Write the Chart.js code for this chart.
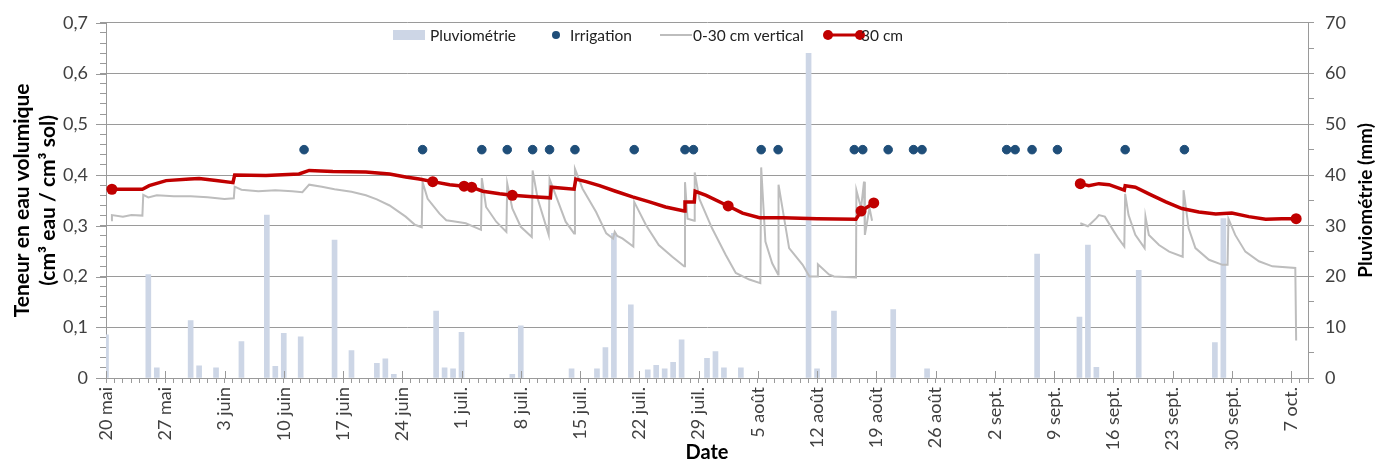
<!DOCTYPE html>
<html lang="fr">
<head>
<meta charset="utf-8">
<title>Teneur en eau volumique et pluviométrie</title>
<script src="https://cdn.jsdelivr.net/npm/chart.js@4.4.1/dist/chart.umd.min.js"></script>
<style>
  html, body { margin: 0; padding: 0; background: #fff; }
  canvas { display: block; }
</style>
</head>
<body>
<canvas id="soilChart" width="1387" height="465"></canvas>
<script>
'use strict';

// x values are days counted from 20 mai (day 0)
const tickLabels = ['20 mai', '27 mai', '3 juin', '10 juin', '17 juin', '24 juin', '1 juil.',
  '8 juil.', '15 juil.', '22 juil.', '29 juil.', '5 août', '12 août', '19 août', '26 août',
  '2 sept.', '9 sept.', '16 sept.', '23 sept.', '30 sept.', '7 oct.'];

// Pluviométrie (mm), right axis
const rainDays = [0, 5, 6, 10, 11, 13, 16, 19, 20, 21, 23, 27, 29, 32, 33, 34, 39, 40, 41, 42,
  48, 49, 55, 58, 59, 60, 62, 64, 65, 66, 67, 68, 71, 72, 73, 75, 83, 84, 86, 93,
  97, 110, 115, 116, 117, 122, 131, 132];
const rainMm = [8.5, 20.4, 2.0, 11.3, 2.4, 2.0, 7.2, 32.1, 2.3, 8.8, 8.1, 27.2, 5.4, 2.9, 3.8, 0.7, 13.2, 2.0, 1.8, 9.0,
  0.7, 10.3, 1.8, 1.8, 6.0, 28.5, 14.4, 1.6, 2.5, 1.8, 3.1, 7.5, 3.9, 5.2, 2.0, 2.0, 64.0, 1.8, 13.2, 13.5,
  1.8, 24.4, 12.0, 26.2, 2.1, 21.2, 7.0, 31.4];

// Irrigation events, shown at a fixed level on the left axis
const irrigationDays = [23.4, 37.4, 44.4, 47.4, 50.4, 52.4, 55.4, 62.4, 68.4, 69.4, 77.4, 79.4,
  88.4, 89.4, 92.4, 95.4, 96.4, 106.4, 107.4, 109.4, 112.4, 120.4, 127.4];
const irrigationLevel = 0.45;

// 0-30 cm vertical probe (cm3/cm3), null = no record
const probeDays = [0.6, 0.7, 2.0, 3.0, 4.3, 4.4, 5.0, 6.0, 8.0, 10.0, 12.0, 14.0, 15.1, 15.2, 16.0, 18.0, 20.0, 22.0, 23.2, 24.0,
  25.5, 27.0, 29.0, 30.7, 32.0, 33.5, 35.4, 36.5, 37.3, 37.4, 38.0, 39.4, 40.2, 41.0, 42.5, 44.3, 44.4, 44.9, 46.1, 47.3,
  47.4, 48.0, 49.0, 50.3, 50.4, 51.0, 52.3, 52.4, 53.2, 54.3, 55.3, 55.4, 56.3, 57.9, 59.1, 59.9, 60.1, 60.4, 61.0, 62.3,
  62.4, 63.8, 65.3, 66.9, 68.3, 68.4, 68.7, 69.5, 69.55, 70.1, 71.6, 73.2, 74.4, 76.0, 77.3, 77.4, 77.9, 78.7, 79.4, 79.45,
  80.7, 82.3, 83.1, 84.0, 84.1, 85.4, 86.0, 88.6, 88.65, 89.2, 89.55, 89.65, 90.2, 90.5, 100,
  115.1, 116.0, 117.0, 117.3, 118.0, 119.1, 119.6, 120.3, 120.4, 120.8, 121.6, 122.7, 122.8, 123.2, 124.4, 125.6, 127.2, 127.3, 127.9, 128.7,
  130.3, 131.9, 132.5, 132.6, 133.4, 134.6, 136.2, 137.8, 140.5, 140.6];
const probeValues = [0.311, 0.321, 0.318, 0.321, 0.320, 0.361, 0.356, 0.360, 0.358, 0.358, 0.356, 0.353, 0.354, 0.377, 0.371, 0.368, 0.370, 0.368, 0.366, 0.381,
  0.377, 0.372, 0.367, 0.360, 0.352, 0.340, 0.318, 0.302, 0.297, 0.386, 0.353, 0.324, 0.311, 0.309, 0.305, 0.292, 0.394, 0.337, 0.308, 0.288,
  0.383, 0.334, 0.298, 0.278, 0.409, 0.353, 0.282, 0.392, 0.357, 0.308, 0.285, 0.412, 0.373, 0.327, 0.285, 0.275, 0.288, 0.280, 0.275, 0.259,
  0.347, 0.301, 0.262, 0.239, 0.220, 0.386, 0.314, 0.310, 0.405, 0.353, 0.295, 0.243, 0.207, 0.194, 0.187, 0.415, 0.269, 0.226, 0.204, 0.381,
  0.256, 0.223, 0.200, 0.200, 0.224, 0.204, 0.200, 0.198, 0.370, 0.335, 0.387, 0.282, 0.335, 0.310, null,
  0.305, 0.299, 0.315, 0.321, 0.318, 0.288, 0.275, 0.259, 0.363, 0.321, 0.282, 0.256, 0.318, 0.282, 0.262, 0.249, 0.239, 0.370, 0.295, 0.256,
  0.233, 0.223, 0.223, 0.314, 0.282, 0.249, 0.230, 0.220, 0.217, 0.074];

// 30 cm probe (cm3/cm3)
const depth30Days = [0.7, 4.3, 5.1, 7.1, 9.9, 11.0, 13.0, 15.0, 15.2, 18.9, 22.8, 24.0, 26.8, 30.7, 33.5, 35.4, 37.0, 38.6, 40.6, 42.3,
  43.2, 44.5, 46.5, 48.0, 50.4, 52.5, 52.6, 55.3, 55.5, 56.7, 58.3, 60.2, 62.2, 64.2, 66.1, 68.3, 68.4, 69.5, 69.6, 70.9,
  73.5, 75.2, 77.2, 80.0, 84.0, 88.6, 89.2, 90.7, 100,
  115.1, 116.1, 117.3, 118.5, 120.3, 120.4, 121.6, 123.2, 125.2, 127.1, 129.1, 131.1, 133.0, 135.0, 137.0, 138.9, 140.6];
const depth30Values = [0.372, 0.372, 0.379, 0.389, 0.392, 0.393, 0.389, 0.385, 0.400, 0.399, 0.402, 0.409, 0.407, 0.406, 0.402, 0.396, 0.392, 0.387, 0.381, 0.378,
  0.376, 0.368, 0.363, 0.360, 0.357, 0.355, 0.376, 0.372, 0.392, 0.387, 0.379, 0.368, 0.357, 0.347, 0.337, 0.329, 0.347, 0.347, 0.368, 0.360,
  0.339, 0.325, 0.316, 0.316, 0.314, 0.313, 0.329, 0.345, null,
  0.383, 0.379, 0.383, 0.381, 0.370, 0.379, 0.376, 0.363, 0.347, 0.334, 0.327, 0.323, 0.325, 0.318, 0.313, 0.314, 0.314];
const depth30Marked = [0.7, 38.6, 42.3, 43.2, 48.0, 73.5, 89.2, 90.7, 115.1, 140.6];

const textGrey = '#404040';
const gridGrey = '#9a9a9a';
const rainColor = '#cdd6e6';
const irrigationColor = '#1f4e79';
const probeColor = '#bdbdbd';
const depthColor = '#c00000';

Chart.defaults.font.family = 'Lato, "Open Sans", sans-serif';
Chart.defaults.color = textGrey;

function toPoints(days, values) {
  return days.map((d, i) => ({ x: d, y: values[i] }));
}

function isMajor(v, unit) {
  return Math.abs(v / unit - Math.round(v / unit)) < 1e-6;
}

const legendItems = [
  { kind: 'rect', x: 393, text: 'Pluviométrie' },
  { kind: 'dot', x: 540, text: 'Irrigation' },
  { kind: 'line', x: 660, text: '0-30 cm vertical' },
  { kind: 'marked', x: 828, text: '30 cm' }
];

const extrasPlugin = {
  id: 'extras',
  afterDraw(chart) {
    const ctx = chart.ctx;
    const area = chart.chartArea;
    const xScale = chart.scales.x;
    const yScale = chart.scales.y;
    ctx.save();

    // week ticks cross the axis line, major y ticks are longer
    ctx.strokeStyle = gridGrey;
    ctx.lineWidth = 1;
    tickLabels.forEach((lbl, i) => {
      const px = Math.round(xScale.getPixelForValue(i * 7)) + 0.5;
      ctx.beginPath();
      ctx.moveTo(px, area.bottom - 7);
      ctx.lineTo(px, area.bottom);
      ctx.stroke();
    });
    for (let v = 0; v <= 7; v++) {
      const py = Math.round(yScale.getPixelForValue(v / 10)) + 0.5;
      ctx.beginPath();
      ctx.moveTo(area.left - 10, py);
      ctx.lineTo(area.left, py);
      ctx.stroke();
    }

    // right axis title, read from bottom to top
    ctx.fillStyle = '#000';
    ctx.font = 'bold 19px Lato, sans-serif';
    ctx.textAlign = 'center';
    ctx.textBaseline = 'middle';
    ctx.translate(1366, (area.top + area.bottom) / 2);
    ctx.rotate(-Math.PI / 2);
    ctx.fillText('Pluviométrie (mm)', 0, 0);
    ctx.restore();

    // legend
    ctx.save();
    const ly = 35;
    ctx.font = '15.5px Lato, sans-serif';
    ctx.textBaseline = 'middle';
    ctx.textAlign = 'left';
    legendItems.forEach(item => {
      let tx;
      if (item.kind === 'rect') {
        ctx.fillStyle = rainColor;
        ctx.fillRect(item.x, ly - 5, 32, 10);
        tx = item.x + 37;
      } else if (item.kind === 'dot') {
        ctx.fillStyle = irrigationColor;
        ctx.beginPath();
        ctx.arc(item.x + 16, ly, 4, 0, Math.PI * 2);
        ctx.fill();
        tx = item.x + 30;
      } else if (item.kind === 'line') {
        ctx.strokeStyle = probeColor;
        ctx.lineWidth = 2;
        ctx.beginPath();
        ctx.moveTo(item.x, ly);
        ctx.lineTo(item.x + 32, ly);
        ctx.stroke();
        tx = item.x + 33;
      } else {
        ctx.strokeStyle = depthColor;
        ctx.fillStyle = depthColor;
        ctx.lineWidth = 3;
        ctx.beginPath();
        ctx.moveTo(item.x, ly);
        ctx.lineTo(item.x + 32, ly);
        ctx.stroke();
        [item.x, item.x + 32].forEach(cx => {
          ctx.beginPath();
          ctx.arc(cx, ly, 5, 0, Math.PI * 2);
          ctx.fill();
        });
        tx = item.x + 33;
      }
      ctx.fillStyle = '#222';
      ctx.fillText(item.text, tx, ly + 1);
    });
    ctx.restore();
  }
};

const data = {
  datasets: [
    {
      type: 'scatter',
      label: 'Irrigation',
      data: irrigationDays.map(d => ({ x: d, y: irrigationLevel })),
      backgroundColor: irrigationColor,
      borderColor: irrigationColor,
      pointRadius: 4.3,
      yAxisID: 'y',
      order: 1
    },
    {
      type: 'line',
      label: '30 cm',
      data: toPoints(depth30Days, depth30Values),
      borderColor: depthColor,
      backgroundColor: depthColor,
      borderWidth: 3.5,
      pointRadius: depth30Days.map(d => depth30Marked.includes(d) ? 5.5 : 0),
      pointBorderWidth: 0,
      tension: 0,
      yAxisID: 'y',
      order: 2
    },
    {
      type: 'line',
      label: '0-30 cm vertical',
      data: toPoints(probeDays, probeValues),
      borderColor: probeColor,
      borderWidth: 2,
      pointRadius: 0,
      tension: 0,
      yAxisID: 'y',
      order: 3
    },
    {
      type: 'bar',
      label: 'Pluviométrie',
      data: toPoints(rainDays, rainMm),
      backgroundColor: rainColor,
      barThickness: 5,
      yAxisID: 'y1',
      order: 4
    }
  ]
};

const config = {
  type: 'line',
  data: data,
  options: {
    responsive: false,
    animation: false,
    layout: { autoPadding: false, padding: { top: 19, left: 0, right: 0, bottom: 0 } },
    plugins: {
      legend: { display: false },
      tooltip: { enabled: false }
    },
    scales: {
      x: {
        type: 'linear',
        position: 'bottom',
        min: 0,
        max: 142,
        offset: false,
        afterFit: scale => { scale.height = 87; },
        border: { color: gridGrey },
        grid: { offset: false, drawOnChartArea: false, color: gridGrey, tickLength: 5 },
        ticks: {
          stepSize: 1,
          autoSkip: false,
          minRotation: 90,
          maxRotation: 90,
          padding: 4,
          font: { size: 18 },
          callback: v => (v % 7 === 0 ? tickLabels[v / 7] : '')
        },
        title: {
          display: true,
          text: 'Date',
          color: '#000',
          font: { size: 20, weight: 'bold' },
          padding: { top: 0, bottom: 0 }
        }
      },
      y: {
        position: 'left',
        min: 0,
        max: 0.7,
        afterFit: scale => { scale.width = 106; },
        border: { color: gridGrey },
        grid: {
          color: ctx => (isMajor(ctx.tick.value, 0.1) ? gridGrey : 'rgba(0,0,0,0)'),
          tickColor: gridGrey,
          tickLength: 6
        },
        ticks: {
          stepSize: 0.02,
          autoSkip: false,
          padding: 12,
          font: { size: 18 },
          callback: v => (isMajor(v, 0.1) ? (v === 0 ? '0' : v.toFixed(1).replace('.', ',')) : '')
        },
        title: {
          display: true,
          text: ['Teneur en eau volumique', '(cm³ eau / cm³ sol)'],
          color: '#000',
          font: { size: 21, weight: 'bold', lineHeight: 1.25 },
          padding: { top: 9, bottom: 0 }
        }
      },
      y1: {
        position: 'right',
        min: 0,
        max: 70,
        afterFit: scale => { scale.width = 79; },
        border: { color: gridGrey },
        grid: { drawOnChartArea: false, color: gridGrey, tickLength: 6 },
        ticks: {
          stepSize: 5,
          autoSkip: false,
          padding: 11,
          font: { size: 18 },
          callback: v => (v % 10 === 0 ? String(v) : '')
        }
      }
    }
  },
  plugins: [extrasPlugin]
};

const canvasChart = document.getElementById('soilChart');
const soilChart = new Chart(canvasChart, config);
</script>
</body>
</html>
